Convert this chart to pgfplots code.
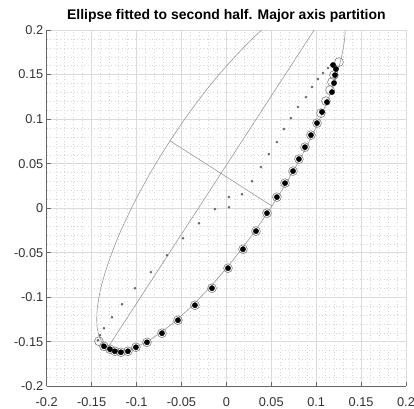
\documentclass[border=0pt]{standalone}
\usepackage{fontspec}
\setmainfont{Liberation Sans}
\usepackage{pgfplots}
\pgfplotsset{compat=1.18}

% fitted ellipse, sampled every 10 degrees
\pgfplotstableread{
x y
0.1202 0.2349
0.1085 0.2382
0.0932 0.2356
0.0749 0.2279
0.0542 0.2125
0.0317 0.1929
0.0082 0.1686
-0.0162 0.1403
-0.0400 0.1090
-0.0627 0.0756
-0.0838 0.0410
-0.1025 0.0064
-0.1183 -0.0273
-0.1306 -0.0589
-0.1392 -0.0875
-0.1437 -0.1123
-0.1440 -0.1326
-0.1402 -0.1475
-0.1322 -0.1569
-0.1205 -0.1602
-0.1052 -0.1576
-0.0869 -0.1489
-0.0662 -0.1345
-0.0437 -0.1149
-0.0200 -0.0906
0.0042 -0.0623
0.0280 -0.0310
0.0507 0.0024
0.0718 0.0370
0.0905 0.0716
0.1063 0.1053
0.1186 0.1369
0.1272 0.1655
0.1317 0.1903
0.1320 0.2106
0.1282 0.2255
0.1202 0.2349
}\ellipsedata

% small dots
\pgfplotstableread{
x y
-0.1430 -0.1483
-0.1408 -0.1427
-0.1363 -0.1348
-0.1274 -0.1225
-0.1163 -0.1079
-0.1018 -0.0899
-0.0840 -0.0719
-0.0661 -0.0528
-0.0483 -0.0337
-0.0305 -0.0169
-0.0127 -0.0011
0.0029 0.0011
0.0029 0.0124
0.0174 0.0157
0.0285 0.0303
0.0385 0.0461
0.0474 0.0607
0.0563 0.0742
0.0641 0.0888
0.0719 0.1011
0.0797 0.1135
0.0886 0.1247
0.0953 0.1360
0.1020 0.1449
0.1076 0.1517
0.1131 0.1573
0.1176 0.1607
}\smalldots

% open circles
\pgfplotstableread{
x y
-0.1419 -0.1494
-0.1363 -0.1551
-0.1296 -0.1584
-0.1241 -0.1607
-0.1174 -0.1618
-0.1096 -0.1607
-0.1007 -0.1562
-0.0884 -0.1506
-0.0717 -0.1404
-0.0539 -0.1258
-0.0350 -0.1090
-0.0160 -0.0899
0.0018 -0.0674
0.0185 -0.0461
0.0330 -0.0258
0.0452 -0.0056
0.0563 0.0124
0.0653 0.0281
0.0742 0.0416
0.0808 0.0551
0.0875 0.0685
0.0942 0.0820
0.1009 0.0955
0.1053 0.1067
0.1109 0.1202
0.1154 0.1326
0.1176 0.1416
0.1198 0.1494
0.1254 0.1640
}\opendots

% filled dots
\pgfplotstableread{
x y
-0.1363 -0.1551
-0.1296 -0.1584
-0.1241 -0.1607
-0.1174 -0.1618
-0.1096 -0.1607
-0.1007 -0.1562
-0.0884 -0.1506
-0.0717 -0.1404
-0.0539 -0.1258
-0.0350 -0.1090
-0.0160 -0.0899
0.0018 -0.0674
0.0185 -0.0461
0.0330 -0.0258
0.0452 -0.0056
0.0563 0.0124
0.0653 0.0281
0.0742 0.0416
0.0808 0.0551
0.0875 0.0685
0.0942 0.0820
0.1009 0.0955
0.1065 0.1079
0.1120 0.1191
0.1176 0.1303
0.1198 0.1404
0.1209 0.1494
0.1220 0.1562
0.1187 0.1607
}\filleddots

\begin{document}
\begin{tikzpicture}
\begin{axis}[
    scale only axis,
    width=359bp, height=356bp,
    at={(0,0)}, anchor=south west,
    xmin=-0.2, xmax=0.2, ymin=-0.2, ymax=0.2,
    axis x line*=bottom, axis y line*=left,
    axis line style={draw=black!60, line width=0.6pt},
    tick align=inside,
    major tick length=4bp, minor tick length=0pt,
    tick style={draw=black!60, line width=0.6pt},
    xtick={-0.2,-0.15,-0.1,-0.05,0,0.05,0.1,0.15,0.2},
    ytick={-0.2,-0.15,-0.1,-0.05,0,0.05,0.1,0.15,0.2},
    xticklabels={-0.2,-0.15,-0.1,-0.05,0,0.05,0.1,0.15,0.2},
    yticklabels={-0.2,-0.15,-0.1,-0.05,0,0.05,0.1,0.15,0.2},
    minor tick num=4,
    grid=both,
    major grid style={draw=black!14, line width=0.5pt},
    minor grid style={draw=black!16, line width=0.4pt,
                      dash pattern=on 0.6bp off 2.8bp},
    ticklabel style={font=\fontsize{12.8}{14}\selectfont, text=black!80},
    xticklabel style={anchor=base, yshift=-20.3bp},
    title={Ellipse fitted to second half. Major axis partition},
    title style={font=\fontsize{14}{16}\selectfont\bfseries, at={(0.5,1)},
                 anchor=base, yshift=5bp},
]
\addplot[draw=black!40, line width=0.6pt, smooth] table {\ellipsedata};
%% major and minor axes
\addplot[draw=black!40, line width=0.6pt] coordinates {(-0.1322,-0.1569) (0.1202,0.2349)};
\addplot[draw=black!40, line width=0.6pt] coordinates {(-0.0627,0.0756) (0.0507,0.0024)};
\addplot[only marks, mark=*, mark size=1.1bp, draw=black!60, fill=black!60] table {\smalldots};
\addplot[only marks, mark=o, mark size=4.4bp, draw=black!50, line width=0.6pt] table {\opendots};
\addplot[only marks, mark=*, mark size=2.6bp, draw=black, fill=black] table {\filleddots};
\end{axis}
\pgfresetboundingbox
\path ([shift={(-46.7bp,-22.3bp)}]current axis.south west)
    rectangle ([shift={(8bp,30bp)}]current axis.north east);
\end{tikzpicture}
\end{document}
